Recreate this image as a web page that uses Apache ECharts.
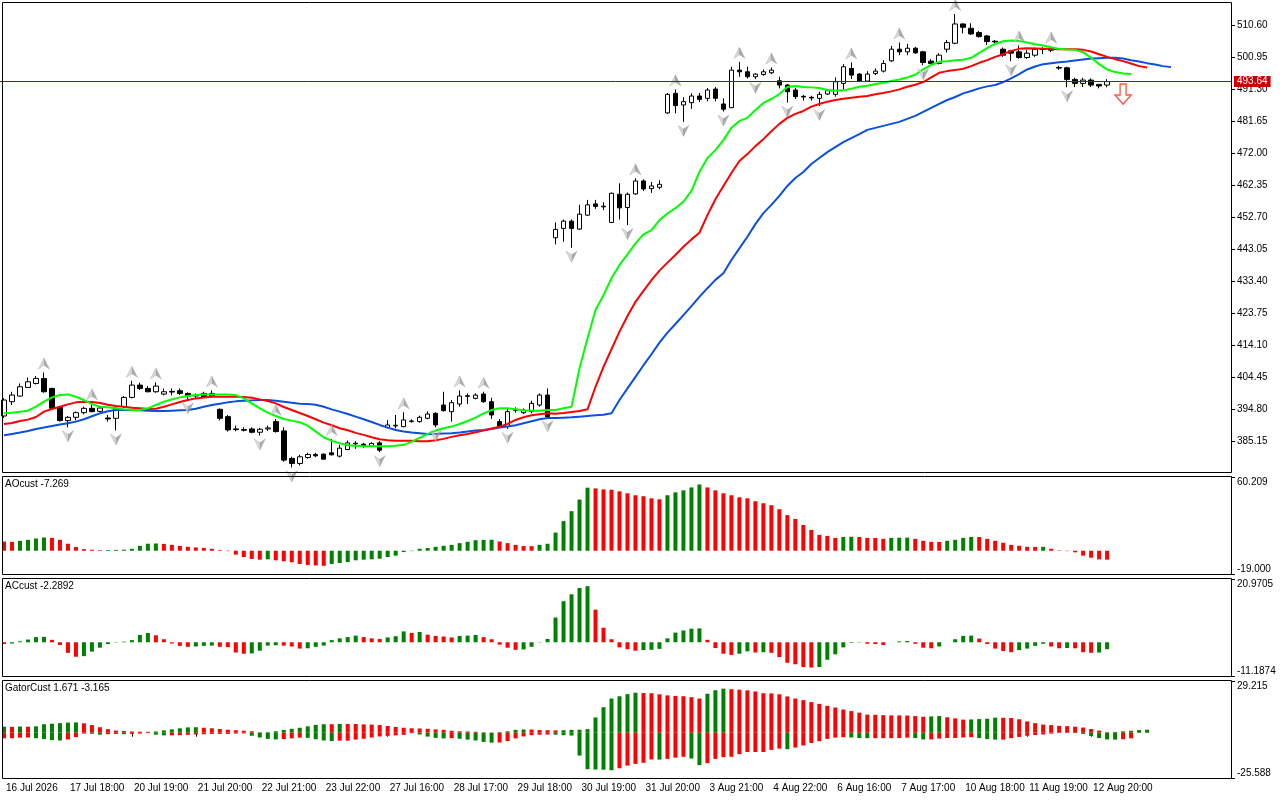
<!DOCTYPE html>
<html><head><meta charset="utf-8">
<script src="https://cdn.jsdelivr.net/npm/echarts@6/dist/echarts.min.js"></script>
<style>html,body{margin:0;padding:0;background:#fff;}#chart{width:1280px;height:800px;}</style>
</head><body><div id="chart"></div>
<script>
const tickLabels = ['16 Jul 2026','17 Jul 18:00','20 Jul 19:00','21 Jul 20:00','22 Jul 21:00','23 Jul 22:00','27 Jul 16:00','28 Jul 17:00','29 Jul 18:00','30 Jul 19:00','31 Jul 20:00','3 Aug 21:00','4 Aug 22:00','6 Aug 16:00','7 Aug 17:00','10 Aug 18:00','11 Aug 19:00','12 Aug 20:00'];
const priceTicks = [385.15,394.80,404.45,414.10,423.75,433.40,443.05,452.70,462.35,472.00,481.65,491.30,500.95,510.60];
const priceRange = [375.72, 517.32];
const lastPrice = 493.64;

const opens = [392.9,397.2,398.9,401.5,402.7,404.2,401.2,395.5,391.5,392.5,
393.9,395.2,394.3,392.3,392.2,395.7,398.5,402.2,401.2,400.2,
399.5,400.3,400.5,399.7,399.1,399.7,399.7,394.9,392.7,389.0,
388.8,389.0,388.0,389.0,391.2,388.4,380.1,378.6,380.4,381.3,
381.4,381.8,380.8,382.8,384.5,384.4,383.8,384.8,389.4,389.9,
389.7,391.2,391.2,392.2,393.7,396.2,394.2,396.5,398.8,398.2,
399.5,397.2,391.2,389.7,394.6,393.9,394.2,396.2,399.2,446.6,
449.4,451.6,449.2,453.4,456.8,455.9,451.2,459.7,455.7,459.8,
463.7,461.4,461.8,484.2,490.1,486.6,487.3,489.3,488.6,491.4,
486.9,485.8,497.1,496.6,495.1,495.8,496.3,493.9,492.6,491.1,
489.2,488.9,488.6,489.9,489.8,493.1,497.6,495.9,493.8,496.1,
496.8,499.9,503.4,502.6,503.7,502.6,499.8,499.1,503.4,505.2,
511.0,509.7,508.4,507.4,505.8,503.4,502.9,502.6,500.9,501.6,
503.3,503.3,497.9,497.8,494.3,493.1,494.1,492.8,492.6];
const closes = [397.7,399.2,401.7,403.2,404.2,400.2,395.2,391.5,392.5,393.9,
395.2,394.2,395.3,392.0,395.2,398.5,402.2,401.2,400.2,401.9,
400.2,400.1,399.7,398.9,398.9,398.6,398.9,392.2,388.7,388.8,
388.6,388.0,388.9,389.3,388.2,379.6,378.6,380.6,381.3,380.9,
379.9,381.2,383.2,384.8,384.7,383.8,384.6,382.6,390.2,390.1,
391.7,391.4,392.5,393.5,390.2,394.5,396.9,398.9,399.0,399.2,
397.2,393.2,389.7,394.2,394.8,394.7,396.7,399.2,392.7,449.1,
451.6,449.4,453.7,456.5,456.0,456.1,460.0,455.6,459.7,463.7,
461.3,462.2,462.7,489.8,486.4,487.6,489.3,488.3,491.1,488.6,
485.3,497.1,496.6,495.1,495.9,496.6,497.1,492.6,490.6,489.1,
489.0,488.7,489.8,490.9,493.6,498.1,495.6,493.8,495.9,496.8,
499.1,503.4,502.6,503.7,502.3,499.4,499.1,501.6,505.4,511.0,
510.0,508.0,507.2,505.7,505.6,501.6,502.2,500.9,502.2,503.4,
503.5,503.1,497.7,494.3,493.1,494.1,492.6,492.3,493.64];
const highs = [398.3,400.2,402.7,404.5,404.9,406.0,401.4,395.7,392.9,394.3,
395.7,396.7,395.9,393.2,396.2,398.9,403.5,402.9,401.9,403.0,
401.2,401.2,401.2,400.0,399.7,400.2,400.6,395.2,393.2,390.0,
389.5,389.5,389.3,390.0,392.0,389.5,380.6,381.2,381.8,381.8,
381.6,386.0,384.2,385.5,385.3,384.8,385.0,385.3,391.7,393.2,
394.0,391.9,393.0,394.3,394.0,400.2,397.7,400.6,399.7,399.7,
400.2,398.4,392.0,395.2,395.5,395.2,397.5,399.7,401.2,451.2,
452.1,452.1,456.5,458.0,458.0,457.3,460.2,463.0,460.2,464.5,
464.2,463.4,463.9,490.2,491.3,488.9,490.1,490.2,491.7,492.0,
488.6,498.1,499.6,498.1,496.2,497.3,497.9,495.1,492.9,491.7,
489.6,489.4,490.6,491.4,494.9,498.9,499.4,496.2,496.8,497.6,
500.1,504.4,505.4,505.0,504.1,502.9,500.4,502.2,506.2,514.0,
511.2,511.2,508.9,507.7,506.2,503.9,503.2,504.5,503.2,503.9,
504.0,504.2,498.4,498.1,494.8,494.8,494.6,492.9,494.4];
const lows = [392.3,396.2,398.7,401.3,402.4,399.9,394.9,391.2,389.5,391.6,
393.4,394.0,394.0,391.2,388.5,395.4,398.2,400.7,400.0,399.9,
399.1,399.1,399.2,397.9,398.3,398.3,398.5,391.6,388.2,388.3,
388.2,387.7,387.0,388.4,387.9,379.1,377.4,378.0,380.0,380.5,
379.8,381.0,380.4,382.6,383.0,383.3,383.5,382.0,389.2,389.2,
389.5,390.9,390.9,391.9,389.5,394.2,391.2,395.7,396.5,397.9,
396.9,392.0,389.5,389.0,393.9,393.5,393.7,395.7,392.5,444.6,
445.4,443.6,448.9,453.2,455.3,454.9,451.0,452.1,450.4,459.5,
460.7,460.1,461.2,483.9,484.1,481.5,485.4,487.5,487.7,487.7,
484.6,485.6,495.1,494.6,494.4,495.4,495.9,491.6,487.3,488.4,
487.9,487.9,486.3,489.6,489.1,491.3,494.4,493.5,493.5,495.6,
496.4,499.6,501.6,501.6,502.0,498.6,498.8,498.8,502.4,504.9,
508.2,507.7,506.9,504.7,505.2,501.1,499.8,500.5,500.5,501.1,
501.9,502.5,497.2,491.9,492.0,492.0,492.0,491.6,491.9];

const jaw = [387.1,387.5,387.9,388.4,389.0,389.4,389.9,390.3,390.7,391.2,
391.9,392.8,393.7,394.3,394.7,394.7,394.7,394.6,394.5,394.4,
394.4,394.5,394.6,394.7,395.1,395.7,396.2,396.6,397.0,397.3,
397.5,397.6,397.7,397.7,397.5,397.2,396.9,396.6,396.5,396.3,
395.7,394.9,394.2,393.5,392.7,391.9,391.1,390.2,389.4,388.7,
388.2,387.9,387.7,387.5,387.5,387.6,387.7,387.9,388.2,388.5,
388.7,389.0,389.4,389.7,390.1,390.7,391.3,391.9,392.3,392.3,
392.4,392.5,392.7,392.9,393.1,393.3,393.7,397.7,401.2,404.7,
408.2,411.5,415.0,418.0,420.6,423.3,426.0,428.8,431.4,433.9,
435.9,439.9,443.4,446.9,450.7,454.0,456.5,459.2,462.2,464.6,
466.4,468.8,470.6,472.4,473.9,475.4,476.6,477.8,479.1,479.7,
480.3,480.9,481.5,482.4,483.3,484.5,485.7,486.9,488.1,489.0,
490.1,490.8,491.6,492.2,492.6,493.5,494.6,495.9,497.3,498.2,
498.9,499.2,499.5,499.7,500.0,500.3,500.6,500.7,500.8,500.8,
500.6,500.1,499.7,499.2,498.8,498.3,498.0];
const teeth = [390.5,390.8,391.4,391.8,392.6,394.2,395.0,395.7,396.4,397.0,
397.2,397.1,396.8,396.3,395.9,395.7,395.4,395.2,395.0,395.1,
395.7,396.4,397.1,397.7,398.2,398.5,398.7,398.7,398.7,398.7,
398.6,398.4,397.9,397.4,396.7,395.6,394.7,393.8,392.9,391.9,
390.9,390.1,389.2,388.6,387.8,387.2,386.5,385.9,385.6,385.4,
385.4,385.4,385.3,385.3,385.6,386.0,386.6,387.1,387.5,388.0,
388.5,389.1,389.7,390.5,391.7,392.5,393.1,393.4,393.7,393.6,
393.8,394.1,394.4,394.9,401.7,407.7,413.0,418.3,423.0,427.3,
430.6,433.8,436.7,439.1,441.4,443.9,446.1,448.1,453.4,458.2,
462.2,466.1,469.7,471.8,474.2,476.3,478.7,480.9,482.7,483.9,
484.8,486.1,486.9,487.6,488.1,488.5,488.8,489.1,489.3,489.8,
490.2,490.7,491.3,492.1,492.7,493.5,494.9,496.3,496.8,497.1,
497.5,498.3,499.3,500.1,501.1,501.9,502.9,503.5,503.7,503.6,
503.5,503.5,503.4,503.4,503.4,503.2,502.7,501.9,501.1,500.4,
499.8,499.1,498.3,497.9];
const lips = [393.7,393.9,394.2,394.5,395.7,397.2,398.5,399.2,399.4,398.7,
397.7,396.5,395.7,395.5,395.2,394.9,394.7,394.7,395.2,396.2,
397.2,397.9,398.5,398.9,399.2,399.4,399.4,399.4,399.4,399.2,
398.2,396.7,395.2,393.9,392.9,392.0,391.5,391.0,390.0,388.2,
386.5,385.4,384.7,384.1,383.9,383.8,383.8,383.8,383.8,383.9,
384.2,385.1,386.3,387.5,388.5,389.2,389.7,390.5,391.4,392.4,
393.7,394.7,395.2,395.2,394.9,394.6,394.5,394.5,394.7,394.7,
395.2,395.7,407.3,416.3,424.8,429.3,434.4,438.4,441.6,444.9,
447.6,448.9,451.9,453.9,455.5,457.5,460.7,466.4,470.6,473.0,
476.0,479.7,481.8,482.7,485.1,487.2,488.4,489.9,492.0,492.3,
492.0,491.9,491.7,491.1,490.9,491.0,491.5,492.1,492.4,492.9,
493.3,493.8,494.3,494.9,495.7,497.3,498.7,499.6,499.8,500.1,
500.2,500.8,502.3,503.7,505.0,505.8,506.0,505.9,505.4,504.9,
504.5,504.0,503.5,503.3,503.2,502.5,500.8,498.9,497.3,496.5,
496.1,495.9];

const fractalUpIdx = [5,11,16,19,26,34,41,50,57,60,79,84,92,96,106,112,119,127,131];
const fractalDownIdx = [8,14,23,32,36,47,54,63,68,71,78,85,90,94,98,102,115,126,133];
const signalIdx = [140];
const signalPrice = [489.9];

const aoValues = [7.5,7.2,8.1,8.9,10.0,10.8,10.5,8.9,5.7,3.0,
1.3,0.8,0.5,0.6,0.7,0.9,1.6,4.0,5.7,5.9,
5.6,4.8,4.0,3.2,2.7,2.2,1.6,0.5,-0.3,-3.2,
-5.1,-6.7,-7.3,-7.0,-7.8,-8.6,-9.4,-10.8,-11.6,-12.0,
-12.3,-10.8,-10.0,-9.2,-7.8,-7.3,-7.0,-6.5,-5.1,-4.0,
-1.1,-0.3,1.6,2.2,3.2,4.0,4.8,6.2,7.3,8.6,
8.9,9.0,7.5,6.2,4.8,3.8,3.7,4.8,5.7,14.8,
24.2,32.3,41.8,51.5,50.9,50.1,49.8,48.5,46.9,45.3,
44.5,42.8,42.0,45.3,47.7,49.3,51.7,54.1,51.7,49.3,
46.9,45.3,43.6,42.8,40.4,38.8,37.2,33.9,29.1,25.9,
21.0,17.0,12.9,12.1,10.5,11.3,11.4,11.2,10.5,10.4,
9.7,10.5,10.6,10.7,9.7,8.1,7.3,7.2,8.1,8.9,
10.5,11.3,11.2,9.7,8.1,6.5,4.8,4.0,3.2,3.1,
3.2,1.6,0.3,-0.3,-1.3,-4.0,-5.7,-7.1,-7.269];
const acValues = [-0.6,-0.4,0.3,0.9,1.7,1.8,0.8,-0.9,-3.5,-4.8,
-4.6,-3.1,-1.8,-0.6,-0.1,0.2,0.7,2.4,3.1,2.3,
1.0,-0.4,-1.2,-1.5,-1.4,-1.2,-1.1,-1.5,-1.6,-3.4,
-3.8,-3.7,-2.8,-1.1,-1.0,-1.1,-1.4,-2.1,-2.0,-1.5,
-1.1,0.7,1.3,1.7,2.2,1.7,1.3,1.1,1.6,2.0,
3.6,3.1,3.4,2.5,2.1,1.9,1.6,2.1,2.2,2.4,
1.7,1.0,-0.8,-1.8,-2.5,-2.4,-1.5,0.1,1.1,8.2,
13.6,15.9,18.0,18.6,10.8,4.8,1.0,-1.7,-2.3,-2.8,
-2.6,-2.5,-2.2,1.3,3.2,3.9,4.5,4.6,0.8,-1.9,
-3.8,-4.2,-3.8,-3.0,-3.4,-3.3,-3.5,-4.9,-6.8,-7.3,
-8.2,-8.4,-8.2,-5.8,-4.0,-1.7,-0.2,-0.1,-0.5,-0.6,
-0.9,0.0,0.3,0.4,-0.5,-1.8,-2.0,-1.4,0.0,1.0,
2.1,2.2,1.2,-0.6,-2.1,-2.9,-3.3,-2.6,-2.1,-1.2,
-0.5,-1.4,-2.0,-1.9,-2.0,-3.3,-3.5,-3.4,-2.2892];
const gatorUp = [3.4,3.3,3.5,3.4,3.6,4.8,5.1,5.4,5.7,5.8,
5.3,4.3,3.1,2.0,1.2,1.0,0.7,0.6,0.5,0.7,
1.3,1.9,2.5,3.0,3.1,2.8,2.5,2.1,1.7,1.4,
1.1,0.8,0.2,0.3,0.8,1.6,2.2,2.8,3.6,4.4,
4.8,4.8,5.0,4.9,4.9,4.7,4.6,4.3,3.8,3.3,
2.8,2.5,2.4,2.2,1.9,1.6,1.1,0.8,0.7,0.5,
0.2,0.1,0.3,0.8,1.6,1.8,1.8,1.5,1.4,1.3,
1.4,1.6,1.7,2.0,8.6,14.4,19.3,20.6,21.8,22.6,
22.4,22.3,21.7,21.1,20.8,20.6,20.1,19.3,22.0,24.0,
24.9,24.6,24.3,23.9,23.3,22.3,22.2,21.7,20.5,19.3,
18.4,17.3,16.3,15.2,14.2,13.1,12.2,11.3,10.2,10.1,
9.9,9.8,9.8,9.7,9.4,9.0,9.2,9.4,8.7,8.1,
7.4,7.5,7.7,7.9,8.5,8.4,8.3,7.6,6.4,5.4,
4.6,4.3,3.9,3.7,3.4,2.9,2.1,1.2,0.3,0.4,
0.8,1.1,1.5,1.671];
const gatorDown = [-3.2,-3.1,-2.8,-2.7,-3.1,-3.6,-4.2,-4.4,-3.8,-2.5,
-0.5,-0.6,-1.1,-0.8,-0.7,-0.8,-0.7,-0.5,-0.2,-1.1,
-1.5,-1.5,-1.4,-1.2,-1.0,-0.9,-0.7,-0.7,-0.7,-0.5,
-0.4,-1.7,-2.7,-3.5,-3.8,-3.6,-3.2,-2.8,-2.9,-3.7,
-4.4,-4.7,-4.5,-4.5,-3.9,-3.4,-2.7,-2.1,-1.8,-1.5,
-1.2,-0.3,-1.0,-2.2,-2.9,-3.2,-3.1,-3.4,-3.9,-4.4,
-5.2,-5.6,-5.5,-4.7,-3.2,-2.1,-1.4,-1.1,-1.0,-1.1,
-1.4,-1.6,-12.9,-20.6,-20.8,-20.9,-21.2,-20.1,-18.6,-17.6,
-17.0,-15.1,-15.2,-14.8,-14.1,-13.6,-14.6,-18.3,-17.2,-14.8,
-13.8,-13.6,-12.1,-10.9,-10.9,-10.9,-9.7,-9.0,-9.3,-8.4,
-7.2,-5.8,-4.8,-3.5,-2.8,-2.5,-2.7,-3.0,-3.1,-3.1,
-3.1,-3.1,-3.0,-2.8,-3.0,-3.8,-3.8,-3.3,-3.0,-3.0,
-2.7,-2.5,-3.0,-3.6,-3.9,-3.9,-3.1,-2.4,-1.7,-1.3,
-1.0,-0.5,-0.1,-0.1,-0.2,-0.7,-1.9,-3.0,-3.8,-3.9,
-3.7,-3.165];
const aoRange = [-19.0, 60.209];
const acRange = [-11.1874, 20.9705];
const gatorRange = [-25.588, 29.215];
const panelTitles = ['AOcust -7.269', 'ACcust -2.2892', 'GatorCust 1.671 -3.165'];

const SLOTS = 154;
const cats = Array.from({length: SLOTS}, (_, i) => String(i));
const GREEN = '#008000', RED = '#FF0000';
const FONT = 'Liberation Sans, Arial, sans-serif';

function colored(vals, firstUp, useAbs) {
  return vals.map((v, i) => {
    let up;
    if (i === 0) up = firstUp;
    else {
      const a = useAbs ? Math.abs(v) : v;
      const b = useAbs ? Math.abs(vals[i - 1]) : vals[i - 1];
      up = a > b;
    }
    return {value: v, itemStyle: {color: up ? GREEN : RED}};
  });
}

const grids = [
  {left: -1, top: 3, width: 1232, height: 470},
  {left: -1, top: 477, width: 1232, height: 97},
  {left: -1, top: 579, width: 1232, height: 97},
  {left: -1, top: 681, width: 1232, height: 97}
];

const labelEvery = (idx) => idx % 8 === 0 && (idx / 8) < tickLabels.length;
const xAxes = grids.map((g, gi) => ({
  type: 'category', gridIndex: gi, data: cats, boundaryGap: true,
  axisLine: {show: false},
  axisTick: gi === 3 ? {show: true, interval: labelEvery, alignWithLabel: true, length: 4, lineStyle: {color: '#000'}} : {show: false},
  axisLabel: gi === 3 ? {
    show: true, interval: labelEvery, align: 'left', margin: 5, fontSize: 10, color: '#000', fontFamily: FONT,
    padding: [0, 0, 0, 2],
    formatter: (val, idx) => tickLabels[Math.round(Number(val) / 8)] || ''
  } : {show: false},
  splitLine: {show: false}
}));

function subAxes(gi, range, dec) {
  const base = {
    gridIndex: gi, type: 'value', position: 'right', min: range[0], max: range[1],
    splitLine: {show: false}, axisLine: {show: false}
  };
  return [
    Object.assign({}, base, {
      axisTick: {show: true, length: 4, customValues: [range[1]], lineStyle: {color: '#000'}},
      axisLabel: {customValues: [range[1]], verticalAlign: 'top', margin: 6, fontSize: 10, color: '#000', fontFamily: FONT, formatter: v => v.toFixed(dec)}
    }),
    Object.assign({}, base, {
      axisTick: {show: true, length: 4, customValues: [range[0]], lineStyle: {color: '#000'}},
      axisLabel: {customValues: [range[0]], verticalAlign: 'bottom', margin: 6, fontSize: 10, color: '#000', fontFamily: FONT, formatter: v => v.toFixed(dec)}
    })
  ];
}

const yAxes = [
  {
    gridIndex: 0, type: 'value', position: 'right', min: priceRange[0], max: priceRange[1],
    splitLine: {show: false}, axisLine: {show: false},
    axisTick: {show: true, length: 4, customValues: priceTicks, lineStyle: {color: '#000'}},
    axisLabel: {customValues: priceTicks, margin: 6, fontSize: 10, color: '#000', fontFamily: FONT, formatter: v => v.toFixed(2)}
  },
  ...subAxes(1, aoRange, 3),
  ...subAxes(2, acRange, 4),
  ...subAxes(3, gatorRange, 3)
];

const candleData = opens.map((o, i) => [o, closes[i], lows[i], highs[i]]);
const fracGradUp = {type: 'linear', x: 0, y: 0, x2: 1, y2: 0, colorStops: [
  {offset: 0, color: '#E6E6E6'}, {offset: 0.5, color: '#C4C4C4'}, {offset: 0.5, color: '#8E8E8E'}, {offset: 1, color: '#A8A8A8'}]};

const series = [
  {
    type: 'candlestick', xAxisIndex: 0, yAxisIndex: 0, data: candleData, barWidth: 5,
    itemStyle: {color: '#FFFFFF', color0: '#000000', borderColor: '#000000', borderColor0: '#000000', borderWidth: 1},
    markLine: {
      silent: true, symbol: ['none', 'none'], animation: false,
      data: [{yAxis: lastPrice}],
      lineStyle: {color: '#B00000', width: 1, type: 'solid'},
      label: {show: true, position: 'end', distance: 3, formatter: lastPrice.toFixed(2), color: '#FFFFFF',
        backgroundColor: '#CC0000', padding: [1, 3, 0, 3], fontSize: 10, fontFamily: FONT}
    }
  },
  {type: 'line', name: 'jaw', xAxisIndex: 0, yAxisIndex: 0, data: jaw, showSymbol: false, symbol: 'none',
    lineStyle: {color: '#0A50DC', width: 2}, z: 3},
  {type: 'line', name: 'teeth', xAxisIndex: 0, yAxisIndex: 0, data: teeth, showSymbol: false, symbol: 'none',
    lineStyle: {color: '#FF0000', width: 2}, z: 3},
  {type: 'line', name: 'lips', xAxisIndex: 0, yAxisIndex: 0, data: lips, showSymbol: false, symbol: 'none',
    lineStyle: {color: '#00FF00', width: 2}, z: 3},
  {type: 'scatter', xAxisIndex: 0, yAxisIndex: 0, data: fractalUpIdx.map(i => [i, highs[i]]),
    symbol: 'path://M0,-6 L6,6 L0,2 L-6,6 Z', symbolSize: [11, 11], symbolOffset: [0, -9],
    itemStyle: {color: fracGradUp, borderColor: '#9A9A9A', borderWidth: 0.5}, z: 4},
  {type: 'scatter', xAxisIndex: 0, yAxisIndex: 0, data: fractalDownIdx.map(i => [i, lows[i]]),
    symbol: 'path://M0,6 L6,-6 L0,-2 L-6,-6 Z', symbolSize: [11, 11], symbolOffset: [0, 9],
    itemStyle: {color: fracGradUp, borderColor: '#9A9A9A', borderWidth: 0.5}, z: 4},
  {type: 'scatter', xAxisIndex: 0, yAxisIndex: 0, data: signalIdx.map((i, k) => [i, signalPrice[k]]),
    symbol: 'path://M-3,-10 L3,-10 L3,1 L8,1 L0,10 L-8,1 L-3,1 Z', symbolSize: [16, 20],
    itemStyle: {color: '#FFFFFF', borderColor: '#FF3020', borderWidth: 1.5}, z: 4},
  {type: 'bar', xAxisIndex: 1, yAxisIndex: 1, data: colored(aoValues, false, false), barWidth: 4},
  {type: 'bar', xAxisIndex: 2, yAxisIndex: 3, data: colored(acValues, false, false), barWidth: 4},
  {type: 'bar', xAxisIndex: 3, yAxisIndex: 5, data: colored(gatorUp, true, false), barWidth: 4, barGap: '-100%'},
  {type: 'bar', xAxisIndex: 3, yAxisIndex: 5, data: colored(gatorDown, false, true), barWidth: 4, barGap: '-100%'}
];

const frames = [[2.5, 472.5], [476.5, 574.5], [578.5, 676.5], [680.5, 778.5]].map(([t, b]) => ({
  type: 'rect', silent: true, z: 100,
  shape: {x: 2.5, y: t, width: 1229, height: b - t},
  style: {fill: 'none', stroke: '#000', lineWidth: 1}
}));

const titles = panelTitles.map((t, i) => ({
  text: t, left: 5, top: [479, 581, 683][i], padding: 0,
  textStyle: {fontSize: 10, fontWeight: 'normal', color: '#000', fontFamily: FONT}
}));

const chart = echarts.init(document.getElementById('chart'), null, {renderer: 'canvas'});
chart.setOption({
  animation: false,
  backgroundColor: '#FFFFFF',
  title: titles,
  grid: grids,
  xAxis: xAxes,
  yAxis: yAxes,
  series: series,
  graphic: frames
});
</script>
</body></html>
